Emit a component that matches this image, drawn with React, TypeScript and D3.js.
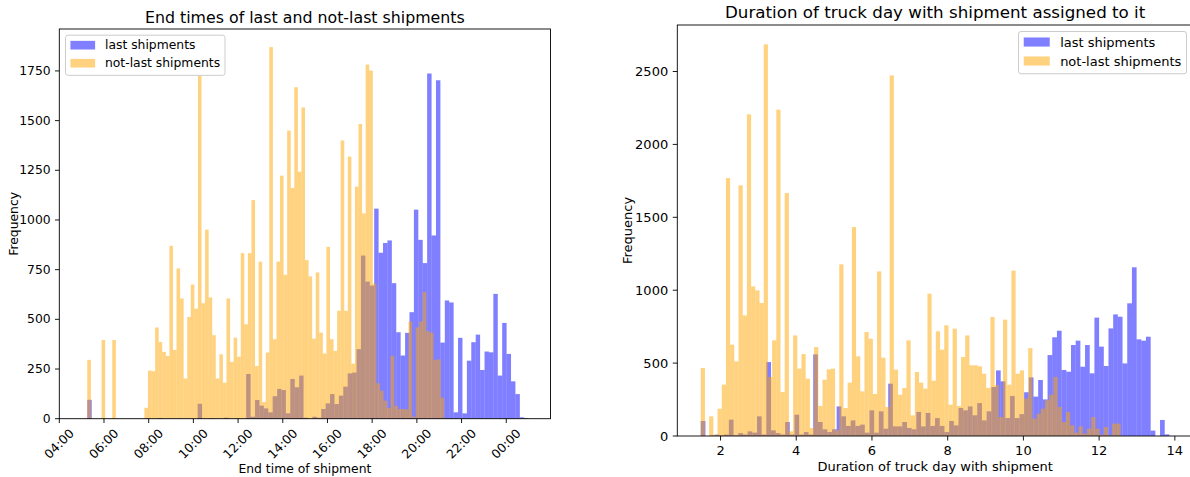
import * as d3 from 'd3';

const FONT = '"DejaVu Sans", sans-serif';
const seriesNames = ['last shipments', 'not-last shipments'];
const LAST_COLOR = 'blue';
const NOT_LAST_COLOR = 'orange';

// ---- left panel: end time of shipment, in hours (24 = midnight, 25 = 01:00)
const endTickHours = [4, 6, 8, 10, 12, 14, 16, 18, 20, 22, 24];
const endTickLabels = ['04:00', '06:00', '08:00', '10:00', '12:00', '14:00', '16:00', '18:00', '20:00', '22:00', '00:00'];
const endFreqTicks = [0, 250, 500, 750, 1000, 1250, 1500, 1750];
const endLastBinStart = 5.253;
const endLastBinWidth = 0.1975;
const endNotLastBinStart = 5.253;
const endNotLastBinWidth = 0.1597;

const endLastCounts = [
  95, 0, 0, 0, 0, 0, 0, 0, 0, 0,
  0, 0, 0, 2, 0, 0, 3, 0, 0, 0,
  0, 0, 0, 0, 0, 75, 0, 0, 2, 0,
  0, 5, 0, 0, 0, 0, 225, 10, 94, 66,
  52, 32, 113, 150, 144, 27, 200, 158, 217, 5,
  0, 10, 5, 49, 77, 124, 74, 116, 161, 228,
  232, 350, 821, 690, 670, 1057, 835, 884, 897, 682,
  435, 318, 432, 536, 1052, 900, 783, 1737, 922, 1703,
  383, 595, 585, 32, 407, 27, 292, 385, 423, 245,
  338, 334, 628, 217, 482, 326, 188, 124, 7, 3,
];

const endNotLastCounts = [
  296, 0, 0, 0, 396, 0, 0, 396, 0, 0,
  0, 0, 0, 0, 0, 0, 55, 242, 239, 459,
  386, 336, 316, 870, 346, 756, 605, 202, 512, 675,
  554, 1727, 581, 951, 610, 420, 202, 324, 181, 605,
  286, 408, 312, 833, 475, 833, 1100, 265, 790, 84,
  333, 1870, 400, 790, 1223, 724, 1450, 1161, 1668, 1243,
  1566, 798, 716, 403, 736, 433, 328, 865, 400, 341,
  543, 1400, 543, 1319, 277, 1168, 1483, 1033, 1782, 1752,
  679, 178, 141, 91, 54, 317, 65, 49, 49, 47,
  489, 10, 459, 489, 638, 440, 433, 296, 299, 106,
];

// ---- right panel: duration of truck day with shipment, in hours
const durTicks = [2, 4, 6, 8, 10, 12, 14];
const durFreqTicks = [0, 500, 1000, 1500, 2000, 2500];
const durLastBinStart = 1.477;
const durLastBinWidth = 0.1238;
const durNotLastBinStart = 1.477;
const durNotLastBinWidth = 0.1109;

const durLastCounts = [
  103, 0, 5, 9, 5, 10, 112, 5, 20, 10,
  32, 23, 135, 10, 507, 39, 20, 10, 96, 10,
  146, 10, 27, 10, 560, 96, 46, 27, 46, 203,
  135, 69, 107, 69, 78, 23, 176, 23, 169, 50,
  359, 66, 66, 96, 55, 46, 165, 66, 158, 69,
  123, 69, 27, 103, 73, 192, 176, 203, 142, 226,
  107, 169, 336, 450, 375, 123, 274, 123, 150, 300,
  402, 270, 384, 251, 555, 677, 722, 453, 441, 624,
  654, 475, 624, 430, 812, 613, 480, 738, 834, 818,
  498, 910, 1157, 663, 654, 681, 37, 0, 110, 11,
];

const durNotLastCounts = [
  466, 0, 135, 9, 187, 352, 1769, 626, 512, 1719,
  827, 2206, 1026, 999, 912, 2686, 405, 656, 2238, 302,
  1666, 32, 690, 462, 562, 393, 55, 610, 206, 386,
  457, 462, 39, 1177, 192, 366, 1433, 546, 306, 713,
  667, 288, 1129, 537, 199, 2473, 455, 283, 329, 656,
  142, 439, 366, 325, 976, 379, 718, 592, 759, 215,
  736, 206, 542, 690, 485, 485, 478, 427, 330, 816,
  350, 130, 798, 352, 1134, 427, 450, 256, 603, 119,
  153, 187, 245, 283, 405, 199, 96, 165, 73, 23,
  66, 16, 50, 130, 50, 9, 62, 5, 85, 85,
];

type Series = { name: string; color: string; start: number; width: number; counts: number[] };

type PanelProps = {
  box: { left: number; right: number; top: number; bottom: number };
  xDomain: [number, number];
  yMax: number;
  xTicks: number[];
  xTickLabels: string[];
  yTicks: number[];
  rotateX: boolean;
  series: Series[];
  title: string;
  xLabel: string;
  fs: number;
  titleFs: number;
  titleY: number;
  xLabelY: number;
  yLabelX: number;
  legendSide: 'left' | 'right';
};

function HistPanel(p: PanelProps) {
  const { box, fs } = p;
  const x = d3.scaleLinear().domain(p.xDomain).range([box.left, box.right]);
  const y = d3.scaleLinear().domain([0, p.yMax]).range([box.bottom, box.top]);
  const tick = fs * 0.35;
  const cx = (box.left + box.right) / 2;
  const cy = (box.top + box.bottom) / 2;

  // legend box (matplotlib-like metrics in font units)
  const lw = 12.92 * fs;
  const lh = 3.25 * fs;
  const lx = p.legendSide === 'left' ? box.left + 0.5 * fs : box.right - 0.5 * fs - lw;
  const ly = box.top + 0.5 * fs;
  const rows = [ly + 0.81 * fs, ly + 2.27 * fs];

  return (
    <g fontFamily={FONT} fill="#000">
      {p.series.map((s) => (
        <g key={s.name} fill={s.color} fillOpacity={0.5}>
          {s.counts.map((c, i) => {
            if (c <= 0) return null;
            const x0 = x(s.start + i * s.width);
            const x1 = x(s.start + (i + 1) * s.width);
            return <rect key={i} x={x0} y={y(c)} width={x1 - x0} height={y(0) - y(c)} />;
          })}
        </g>
      ))}

      <rect x={box.left} y={box.top} width={box.right - box.left} height={box.bottom - box.top}
        fill="none" stroke="#000" strokeWidth={0.9} />

      {p.xTicks.map((t, i) => (
        <g key={'xt' + t}>
          <line x1={x(t)} x2={x(t)} y1={box.bottom} y2={box.bottom + tick} stroke="#000" strokeWidth={0.9} />
          {p.rotateX ? (
            <text transform={`translate(${x(t)},${box.bottom + 2.05 * fs}) rotate(-45)`}
              textAnchor="middle" dominantBaseline="central" fontSize={fs}>{p.xTickLabels[i]}</text>
          ) : (
            <text x={x(t)} y={box.bottom + 2 * tick + 0.78 * fs} textAnchor="middle" fontSize={fs}>
              {p.xTickLabels[i]}
            </text>
          )}
        </g>
      ))}

      {p.yTicks.map((t) => (
        <g key={'yt' + t}>
          <line x1={box.left - tick} x2={box.left} y1={y(t)} y2={y(t)} stroke="#000" strokeWidth={0.9} />
          <text x={box.left - 2 * tick} y={y(t)} textAnchor="end" dominantBaseline="central" fontSize={fs}>{t}</text>
        </g>
      ))}

      <text x={cx} y={p.titleY} textAnchor="middle" fontSize={p.titleFs}>{p.title}</text>
      <text x={cx} y={p.xLabelY} textAnchor="middle" fontSize={fs}>{p.xLabel}</text>
      <text transform={`translate(${p.yLabelX},${cy}) rotate(-90)`} textAnchor="middle"
        dominantBaseline="central" fontSize={fs}>Frequency</text>

      <rect x={lx} y={ly} width={lw} height={lh} rx={2.5} fill="#fff" fillOpacity={0.8}
        stroke="#cccccc" strokeWidth={1} />
      {p.series.map((s, i) => (
        <g key={'lg' + s.name}>
          <rect x={lx + 0.4 * fs} y={rows[i] - 0.35 * fs} width={2 * fs} height={0.7 * fs}
            fill={s.color} fillOpacity={0.5} />
          <text x={lx + 3.2 * fs} y={rows[i]} dominantBaseline="central" fontSize={fs}>{s.name}</text>
        </g>
      ))}
    </g>
  );
}

export default function App() {
  const endSeries: Series[] = [
    { name: seriesNames[0], color: LAST_COLOR, start: endLastBinStart, width: endLastBinWidth, counts: endLastCounts },
    { name: seriesNames[1], color: NOT_LAST_COLOR, start: endNotLastBinStart, width: endNotLastBinWidth, counts: endNotLastCounts },
  ];
  const durSeries: Series[] = [
    { name: seriesNames[0], color: LAST_COLOR, start: durLastBinStart, width: durLastBinWidth, counts: durLastCounts },
    { name: seriesNames[1], color: NOT_LAST_COLOR, start: durNotLastBinStart, width: durNotLastBinWidth, counts: durNotLastCounts },
  ];

  return (
    <svg width={1190} height={477} style={{ position: 'absolute', left: 0, top: 0, background: '#fff' }}>
      <HistPanel
        box={{ left: 59.3, right: 550.5, top: 29, bottom: 418.7 }}
        xDomain={[4, 25.98]}
        yMax={1961}
        xTicks={endTickHours}
        xTickLabels={endTickLabels}
        yTicks={endFreqTicks}
        rotateX={true}
        series={endSeries}
        title="End times of last and not-last shipments"
        xLabel="End time of shipment"
        fs={12.35}
        titleFs={15.8}
        titleY={22.5}
        xLabelY={473}
        yLabelX={13.5}
        legendSide="left"
      />
      <HistPanel
        box={{ left: 677.3, right: 1193, top: 25, bottom: 436 }}
        xDomain={[0.858, 14.48]}
        yMax={2819}
        xTicks={durTicks}
        xTickLabels={durTicks.map(String)}
        yTicks={durFreqTicks}
        rotateX={false}
        series={durSeries}
        title="Duration of truck day with shipment assigned to it"
        xLabel="Duration of truck day with shipment"
        fs={13}
        titleFs={16.7}
        titleY={18}
        xLabelY={471}
        yLabelX={627}
        legendSide="right"
      />
    </svg>
  );
}
